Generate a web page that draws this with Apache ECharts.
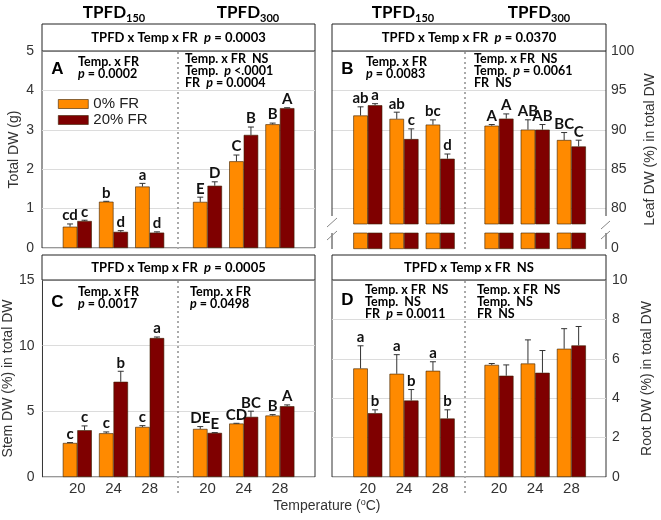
<!DOCTYPE html>
<html><head><meta charset="utf-8">
<script src="https://cdn.jsdelivr.net/npm/echarts@6/dist/echarts.min.js"></script>
<style>html,body{margin:0;padding:0;background:#fff}#c{width:661px;height:520px}</style>
</head><body><div id="c"></div>
<script>
// ---------------- DATA ----------------
const temps = ['20', '24', '28'];
const seriesNames = ['0% FR', '20% FR'];

// Panel A: Total DW (g)
const totalDW_150_fr0 = [0.54, 1.175, 1.56];
const totalDW_150_fr0_err = [0.07, 0.01, 0.08];
const totalDW_150_fr20 = [0.685, 0.41, 0.39];
const totalDW_150_fr20_err = [0.02, 0.03, 0.02];
const totalDW_300_fr0 = [1.17, 2.20, 3.14];
const totalDW_300_fr0_err = [0.12, 0.16, 0.03];
const totalDW_300_fr20 = [1.58, 2.87, 3.55];
const totalDW_300_fr20_err = [0.10, 0.20, 0.01];
const totalDW_150_fr0_let = ['cd', 'b', 'a'];
const totalDW_150_fr20_let = ['c', 'd', 'd'];
const totalDW_300_fr0_let = ['E', 'C', 'B'];
const totalDW_300_fr20_let = ['D', 'B', 'A'];

// Panel B: Leaf DW (%)
const leafDW_150_fr0 = [91.8, 91.37, 90.64];
const leafDW_150_fr0_err = [1.1, 0.85, 0.6];
const leafDW_150_fr20 = [93.1, 88.8, 86.3];
const leafDW_150_fr20_err = [0.2, 1.3, 0.6];
const leafDW_300_fr0 = [90.5, 90.0, 88.68];
const leafDW_300_fr0_err = [0.15, 1.25, 0.95];
const leafDW_300_fr20 = [91.4, 90.0, 87.86];
const leafDW_300_fr20_err = [0.6, 0.65, 0.8];
const leafDW_150_fr0_let = ['ab', 'ab', 'bc'];
const leafDW_150_fr20_let = ['a', 'c', 'd'];
const leafDW_300_fr0_let = ['A', 'AB', 'BC'];
const leafDW_300_fr20_let = ['A', 'AB', 'C'];

// Panel C: Stem DW (%)
const stemDW_150_fr0 = [2.59, 3.33, 3.81];
const stemDW_150_fr0_err = [0.03, 0.1, 0.1];
const stemDW_150_fr20 = [3.56, 7.25, 10.58];
const stemDW_150_fr20_err = [0.33, 0.8, 0.08];
const stemDW_300_fr0 = [3.66, 4.07, 4.68];
const stemDW_300_fr0_err = [0.18, 0.02, 0.07];
const stemDW_300_fr20 = [3.36, 4.58, 5.39];
const stemDW_300_fr20_err = [0.02, 0.43, 0.1];
const stemDW_150_fr0_let = ['c', 'c', 'c'];
const stemDW_150_fr20_let = ['c', 'b', 'a'];
const stemDW_300_fr0_let = ['DE', 'CD', 'B'];
const stemDW_300_fr20_let = ['E', 'BC', 'A'];

// Panel D: Root DW (%)
const rootDW_150_fr0 = [5.51, 5.24, 5.39];
const rootDW_150_fr0_err = [1.15, 0.97, 0.46];
const rootDW_150_fr20 = [3.24, 3.88, 2.97];
const rootDW_150_fr20_err = [0.17, 0.56, 0.44];
const rootDW_300_fr0 = [5.69, 5.76, 6.51];
const rootDW_300_fr0_err = [0.07, 1.2, 1.02];
const rootDW_300_fr20 = [5.14, 5.29, 6.68];
const rootDW_300_fr20_err = [0.55, 1.13, 0.96];
const rootDW_150_fr0_let = ['a', 'a', 'a'];
const rootDW_150_fr20_let = ['b', 'b', 'b'];
const rootDW_300_fr0_let = [];
const rootDW_300_fr20_let = [];

// ---------------- STYLE ----------------
const C0 = '#FF8A00', C20 = '#7F0000', EDGE = '#3a2000';
const BAR_W = 14.5;
const SANS = '"Liberation Sans", Arial, sans-serif';
const BOLDF = 'Lato, sans-serif';
const AX = '#333';

const grids = [], xAxes = [], yAxes = [], series = [];
function addGrid(g, xa, ya) {
  grids.push(g);
  const i = grids.length - 1;
  xAxes.push(Object.assign({ gridIndex: i }, xa));
  yAxes.push(Object.assign({ gridIndex: i }, ya));
  return i;
}
function frame(rect, ya, border) {
  return addGrid(Object.assign({ show: border, borderColor: '#333', borderWidth: 1, backgroundColor: 'transparent' }, rect),
    { type: 'value', min: 0, max: 1, show: false },
    Object.assign({
      type: 'value', axisLine: { show: false }, axisTick: { show: false },
      axisLabel: { color: AX, fontSize: 14, fontFamily: SANS, margin: 8 },
      splitLine: { lineStyle: { color: '#dcdcdc', width: 1 } },
      nameLocation: 'middle', nameRotate: 90,
      nameTextStyle: { color: AX, fontSize: 14, fontFamily: SANS }
    }, ya));
}
function errSeries(gi, vals, errs, lets, side) {
  return {
    type: 'custom', xAxisIndex: gi, yAxisIndex: gi, z: 6, silent: true,
    data: vals.map((v, i) => [i, v, errs[i]]),
    renderItem(params, api) {
      const i = api.value(0), v = api.value(1), e = api.value(2);
      const p0 = api.coord([i, v]), p1 = api.coord([i, v + e]);
      const x = p0[0] + side * BAR_W / 2;
      const ch = [];
      if (e > 0) {
        ch.push({ type: 'line', shape: { x1: x, y1: p0[1], x2: x, y2: p1[1] }, style: { stroke: '#333', lineWidth: 1 } });
        ch.push({ type: 'line', shape: { x1: x - 3, y1: p1[1], x2: x + 3, y2: p1[1] }, style: { stroke: '#333', lineWidth: 1 } });
      }
      const t = lets[params.dataIndex];
      if (t) ch.push({ type: 'text', style: { text: t, x: x, y: p1[1] - 1, align: 'center', verticalAlign: 'bottom',
        fontSize: 15, fontWeight: 'bold', fontFamily: BOLDF, fill: '#111' } });
      return { type: 'group', children: ch };
    }
  };
}
function barSeries(gi, vals, idx) {
  return {
    type: 'bar', name: seriesNames[idx], xAxisIndex: gi, yAxisIndex: gi, data: vals,
    barWidth: BAR_W, barGap: '0%', z: 3,
    itemStyle: { color: idx ? C20 : C0, borderColor: EDGE, borderWidth: 0.6 }
  };
}
function half(rect, ymin, ymax, labels, d0, e0, d1, e1, l0, l1, withErr) {
  const gi = addGrid(rect,
    { type: 'category', data: temps, axisLine: { show: false }, axisTick: { show: false },
      axisLabel: { show: labels, color: AX, fontSize: 15, fontFamily: SANS, margin: 4 } },
    { type: 'value', min: ymin, max: ymax, show: false });
  series.push(barSeries(gi, d0, 0), barSeries(gi, d1, 1));
  if (withErr) series.push(errSeries(gi, d0, e0, l0, -1), errSeries(gi, d1, e1, l1, 1));
}

// Panel A
frame({ left: 42, top: 51, width: 273, height: 197 },
  { min: 0, max: 5, interval: 1, position: 'left', name: 'Total DW (g)', nameGap: 21 }, true);
half({ left: 59.2, top: 51, width: 108.6, height: 197 }, 0, 5, false,
  totalDW_150_fr0, totalDW_150_fr0_err, totalDW_150_fr20, totalDW_150_fr20_err, totalDW_150_fr0_let, totalDW_150_fr20_let, true);
half({ left: 189.4, top: 51, width: 108.6, height: 197 }, 0, 5, false,
  totalDW_300_fr0, totalDW_300_fr0_err, totalDW_300_fr20, totalDW_300_fr20_err, totalDW_300_fr0_let, totalDW_300_fr20_let, true);

// Panel B (broken axis)
frame({ left: 332, top: 51, width: 274, height: 197 },
  { min: 75, max: 100, interval: 5, position: 'right', name: 'Leaf DW (%) in total DW', nameGap: 37,
    axisLabel: { color: AX, fontSize: 14, fontFamily: SANS, margin: 5, formatter: v => (v === 75 ? '0' : String(v)) },
    splitLine: { showMinLine: false, lineStyle: { color: '#dcdcdc', width: 1 } } }, false);
half({ left: 349.7, top: 51, width: 108.6, height: 173 }, 78, 100, false,
  leafDW_150_fr0, leafDW_150_fr0_err, leafDW_150_fr20, leafDW_150_fr20_err, leafDW_150_fr0_let, leafDW_150_fr20_let, true);
half({ left: 480.9, top: 51, width: 108.6, height: 173 }, 78, 100, false,
  leafDW_300_fr0, leafDW_300_fr0_err, leafDW_300_fr20, leafDW_300_fr20_err, leafDW_300_fr0_let, leafDW_300_fr20_let, true);
half({ left: 349.7, top: 233, width: 108.6, height: 16 }, 0, 10, false,
  leafDW_150_fr0, null, leafDW_150_fr20, null, null, null, false);
half({ left: 480.9, top: 233, width: 108.6, height: 16 }, 0, 10, false,
  leafDW_300_fr0, null, leafDW_300_fr20, null, null, null, false);

// Panel C
frame({ left: 42, top: 280, width: 273, height: 197 },
  { min: 0, max: 15, interval: 5, position: 'left', name: 'Stem DW (%) in total DW', nameGap: 25 }, true);
half({ left: 59.2, top: 280, width: 108.6, height: 197 }, 0, 15, true,
  stemDW_150_fr0, stemDW_150_fr0_err, stemDW_150_fr20, stemDW_150_fr20_err, stemDW_150_fr0_let, stemDW_150_fr20_let, true);
half({ left: 189.4, top: 280, width: 108.6, height: 197 }, 0, 15, true,
  stemDW_300_fr0, stemDW_300_fr0_err, stemDW_300_fr20, stemDW_300_fr20_err, stemDW_300_fr0_let, stemDW_300_fr20_let, true);

// Panel D
frame({ left: 332, top: 280, width: 274, height: 197 },
  { min: 0, max: 10, interval: 2, position: 'right', name: 'Root DW (%) in total DW', nameGap: 34,
    axisLabel: { color: AX, fontSize: 14, fontFamily: SANS, margin: 6 } }, true);
half({ left: 349.7, top: 280, width: 108.6, height: 197 }, 0, 10, true,
  rootDW_150_fr0, rootDW_150_fr0_err, rootDW_150_fr20, rootDW_150_fr20_err, rootDW_150_fr0_let, rootDW_150_fr20_let, true);
half({ left: 480.9, top: 280, width: 108.6, height: 197 }, 0, 10, true,
  rootDW_300_fr0, rootDW_300_fr0_err, rootDW_300_fr20, rootDW_300_fr20_err, rootDW_300_fr0_let, rootDW_300_fr20_let, true);

// ---------------- DECORATION ----------------
const bRich = {
  b: { fontSize: 12.5, fontWeight: 'bold', fontFamily: BOLDF, fill: '#000', lineHeight: 12 },
  i: { fontSize: 12.5, fontWeight: 'bold', fontStyle: 'italic', fontFamily: BOLDF, fill: '#000', lineHeight: 12 }
};
function annot(x, y, text) {
  return { type: 'text', x: x, y: y, style: { text: text, rich: bRich, fill: '#000', verticalAlign: 'top' }, z: 10 };
}
function header(x, y, w, h, text) {
  return [
    { type: 'rect', shape: { x: x, y: y, width: w, height: h }, style: { fill: '#fff', stroke: '#222', lineWidth: 1 }, z: 9 },
    { type: 'text', x: x + w / 2, y: y + h / 2, z: 10,
      style: { text: text, align: 'center', verticalAlign: 'middle',
        rich: { b: { fontSize: 13, fontWeight: 'bold', fontFamily: BOLDF, fill: '#000' },
                i: { fontSize: 13, fontWeight: 'bold', fontStyle: 'italic', fontFamily: BOLDF, fill: '#000' } } } }
  ];
}
function tpfd(x, y, sub) {
  return { type: 'text', x: x, y: y, z: 10, style: {
    text: '{a|TPFD}{s|' + sub + '}', align: 'center', verticalAlign: 'middle',
    rich: { a: { fontSize: 17, fontWeight: 'bold', fontFamily: BOLDF, fill: '#000', lineHeight: 22 },
            s: { fontSize: 11, fontWeight: 'bold', fontFamily: BOLDF, fill: '#000', lineHeight: 11, verticalAlign: 'bottom' } } } };
}
function pletter(x, y, t) {
  return { type: 'text', x: x, y: y, z: 10, style: { text: t, align: 'center', verticalAlign: 'middle', fontSize: 17, fontWeight: 'bold', fontFamily: SANS, fill: '#000' } };
}
function divider(x, y1, y2) {
  return { type: 'line', z: 8, shape: { x1: x, y1: y1, x2: x, y2: y2 }, style: { stroke: '#aaa', lineWidth: 2, lineDash: [2, 3] } };
}
function seg(x1, y1, x2, y2, c, w) {
  return { type: 'line', z: 8, shape: { x1, y1, x2, y2 }, style: { stroke: c || '#333', lineWidth: w || 1 } };
}

const graphics = [].concat(
  tpfd(114, 13, '150'), tpfd(248, 13, '300'), tpfd(403, 13, '150'), tpfd(539, 13, '300'),
  header(42, 24, 273, 27, '{b|TPFD x Temp x FR  }{i|p}{b| = 0.0003}'),
  header(332, 24, 274, 27, '{b|TPFD x Temp x FR  }{i|p}{b| = 0.0370}'),
  header(42, 255, 273, 25, '{b|TPFD x Temp x FR  }{i|p}{b| = 0.0005}'),
  header(332, 255, 274, 25, '{b|TPFD x Temp x FR  NS}'),
  pletter(57.5, 69, 'A'), pletter(347.5, 69, 'B'), pletter(57.5, 302, 'C'), pletter(347.5, 300, 'D'),
  annot(78, 55.5, '{b|Temp. x FR}\n{i|p}{b| = 0.0002}'),
  annot(185, 53, '{b|Temp. x FR  NS}\n{b|Temp.  }{i|p}{b| <.0001}\n{b|FR  }{i|p}{b| = 0.0004}'),
  annot(366, 55.5, '{b|Temp. x FR}\n{i|p}{b| = 0.0083}'),
  annot(474, 53, '{b|Temp. x FR  NS}\n{b|Temp.  }{i|p}{b| = 0.0061}\n{b|FR  NS}'),
  annot(78, 285.5, '{b|Temp. x FR}\n{i|p}{b| = 0.0017}'),
  annot(190, 285.5, '{b|Temp. x FR}\n{i|p}{b| = 0.0498}'),
  annot(365, 283.5, '{b|Temp. x FR  NS}\n{b|Temp.  NS}\n{b|FR  }{i|p}{b| = 0.0011}'),
  annot(477, 283.5, '{b|Temp. x FR  NS}\n{b|Temp.  NS}\n{b|FR  NS}'),
  divider(178, 52, 250), divider(465, 52, 250), divider(178, 281, 494), divider(465, 281, 494),
  // panel B broken frame
  seg(332, 51, 332, 216), seg(332, 233, 332, 249), seg(606, 51, 606, 216), seg(606, 233, 606, 249),
  seg(327, 227, 337, 218, '#888'), seg(327, 240, 337, 231, '#888'),
  seg(601, 229, 610, 221, '#888'), seg(601, 239, 610, 231, '#888'),
  { type: 'text', x: 327, y: 506, z: 10, style: { text: '{n|Temperature (}{s|o}{n|C)}', align: 'center', verticalAlign: 'middle',
    rich: { n: { fontSize: 14, fontFamily: SANS, fill: AX, lineHeight: 16 }, s: { fontSize: 9, fontFamily: SANS, fill: AX, lineHeight: 9, verticalAlign: 'top' } } } }
);

const chart = echarts.init(document.getElementById('c'), null, { renderer: 'canvas' });
chart.setOption({
  animation: false,
  backgroundColor: '#fff',
  textStyle: { fontFamily: SANS },
  legend: {
    data: seriesNames, orient: 'vertical', left: 53, top: 91, itemWidth: 30, itemHeight: 9, itemGap: 0,
    icon: 'rect', textStyle: { fontSize: 15, color: '#222', fontFamily: SANS, lineHeight: 16 },
    itemStyle: { borderColor: EDGE, borderWidth: 0.6 }
  },
  grid: grids, xAxis: xAxes, yAxis: yAxes, series: series, graphic: graphics
});
</script></body></html>
